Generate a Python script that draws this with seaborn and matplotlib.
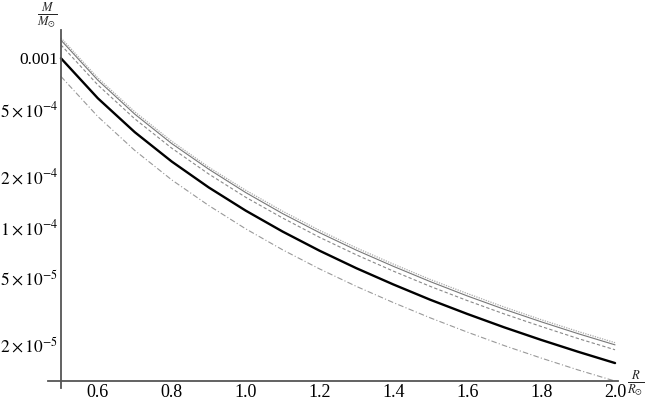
import matplotlib
matplotlib.use("Agg")
import matplotlib.pyplot as plt
import matplotlib.ticker as mticker
import seaborn as sns
import numpy as np

# radius in solar units
radius = [0.5, 0.6, 0.7, 0.8, 0.9, 1.0, 1.1, 1.2, 1.3, 1.4, 1.5, 1.6, 1.7, 1.8, 1.9, 2.0]

# mass in solar units (top to bottom)
mass_dotted = [1.320e-3, 7.64e-4, 4.81e-4, 3.22e-4, 2.26e-4, 1.65e-4, 1.24e-4, 9.54e-5,
               7.51e-5, 6.02e-5, 4.88e-5, 4.03e-5, 3.35e-5, 2.82e-5, 2.40e-5, 2.06e-5]
mass_gray = [1.280e-3, 7.41e-4, 4.66e-4, 3.12e-4, 2.20e-4, 1.60e-4, 1.20e-4, 9.25e-5,
             7.28e-5, 5.84e-5, 4.74e-5, 3.90e-5, 3.25e-5, 2.74e-5, 2.33e-5, 2.00e-5]
mass_dashed = [1.200e-3, 6.94e-4, 4.37e-4, 2.93e-4, 2.06e-4, 1.50e-4, 1.13e-4, 8.68e-5,
               6.83e-5, 5.47e-5, 4.44e-5, 3.66e-5, 3.05e-5, 2.57e-5, 2.18e-5, 1.87e-5]
mass_black = [1.000e-3, 5.787e-4, 3.644e-4, 2.441e-4, 1.715e-4, 1.250e-4, 9.39e-5, 7.23e-5,
              5.69e-5, 4.56e-5, 3.70e-5, 3.05e-5, 2.54e-5, 2.14e-5, 1.82e-5, 1.56e-5]
mass_dashdot = [7.80e-4, 4.51e-4, 2.84e-4, 1.90e-4, 1.34e-4, 9.75e-5, 7.32e-5, 5.64e-5,
                4.44e-5, 3.56e-5, 2.89e-5, 2.38e-5, 1.98e-5, 1.67e-5, 1.42e-5, 1.22e-5]

x_ticks = [0.6, 0.8, 1.0, 1.2, 1.4, 1.6, 1.8, 2.0]
y_ticks = [2e-5, 5e-5, 1e-4, 2e-4, 5e-4, 1e-3]

sns.set_style("white")
plt.rcParams['font.family'] = ['Liberation Serif', 'DejaVu Serif']
plt.rcParams['mathtext.fontset'] = 'stix'

fig = plt.figure(figsize=(6.5, 4), dpi=100)
ax = fig.add_axes([48 / 650, 12 / 400, 570 / 650, 358 / 400])

sns.lineplot(x=radius, y=mass_dotted, ax=ax, color='#aaaaaa', lw=0.9, linestyle=(0, (1, 1)))
sns.lineplot(x=radius, y=mass_gray, ax=ax, color='#777777', lw=0.8)
sns.lineplot(x=radius, y=mass_dashed, ax=ax, color='#888888', lw=0.8, linestyle=(0, (3, 2)))
sns.lineplot(x=radius, y=mass_black, ax=ax, color='black', lw=1.7)
sns.lineplot(x=radius, y=mass_dashdot, ax=ax, color='#999999', lw=0.8,
             linestyle=(0, (5, 2, 1, 2)))

ax.set_yscale('log')
ax.set_xlim(0.465, 2.008)
ax.set_ylim(1.11e-5, 1.47e-3)

# Mathematica-like crossing axes
for s in ['top', 'right']:
    ax.spines[s].set_visible(False)
ax.spines['left'].set_position(('data', 0.5))
ax.spines['bottom'].set_position(('data', 1.22e-5))
for s in ['left', 'bottom']:
    ax.spines[s].set_color('#555555')
    ax.spines[s].set_linewidth(1.3)

ax.xaxis.set_major_locator(mticker.FixedLocator(x_ticks))
ax.xaxis.set_minor_locator(mticker.MultipleLocator(0.05))
ax.xaxis.set_major_formatter(mticker.FuncFormatter(lambda v, p: f"{v:.1f}"))

ax.yaxis.set_major_locator(mticker.FixedLocator(y_ticks))
ax.yaxis.set_minor_locator(mticker.LogLocator(base=10, subs=np.arange(1, 10)))
ax.yaxis.set_minor_formatter(mticker.NullFormatter())


def yfmt(v, p):
    if abs(v - 1e-3) < 1e-9:
        return "0.001"
    e = int(np.floor(np.log10(v) + 1e-9))
    m = int(round(v / 10 ** e))
    return r"$%d\times10^{%d}$" % (m, e)


ax.yaxis.set_major_formatter(mticker.FuncFormatter(yfmt))

ax.tick_params(which='both', direction='in', color='#555555',
               labelcolor='black', width=0.8)
ax.tick_params(axis='y', labelsize=12.5)
ax.tick_params(axis='x', labelsize=13)
ax.tick_params(which='major', length=4.5, pad=2)
ax.tick_params(which='minor', length=2.5)

# axis labels as fractions, placed in figure pixels
fig.text(47 / 650, 1 - 15 / 400, r"$\frac{M}{M_{\odot}}$", ha='center', va='center', fontsize=13)
fig.text(636 / 650, 1 - 383 / 400, r"$\frac{R}{R_{\odot}}$", ha='center', va='center', fontsize=13)

fig.savefig("out.png", dpi=100)
